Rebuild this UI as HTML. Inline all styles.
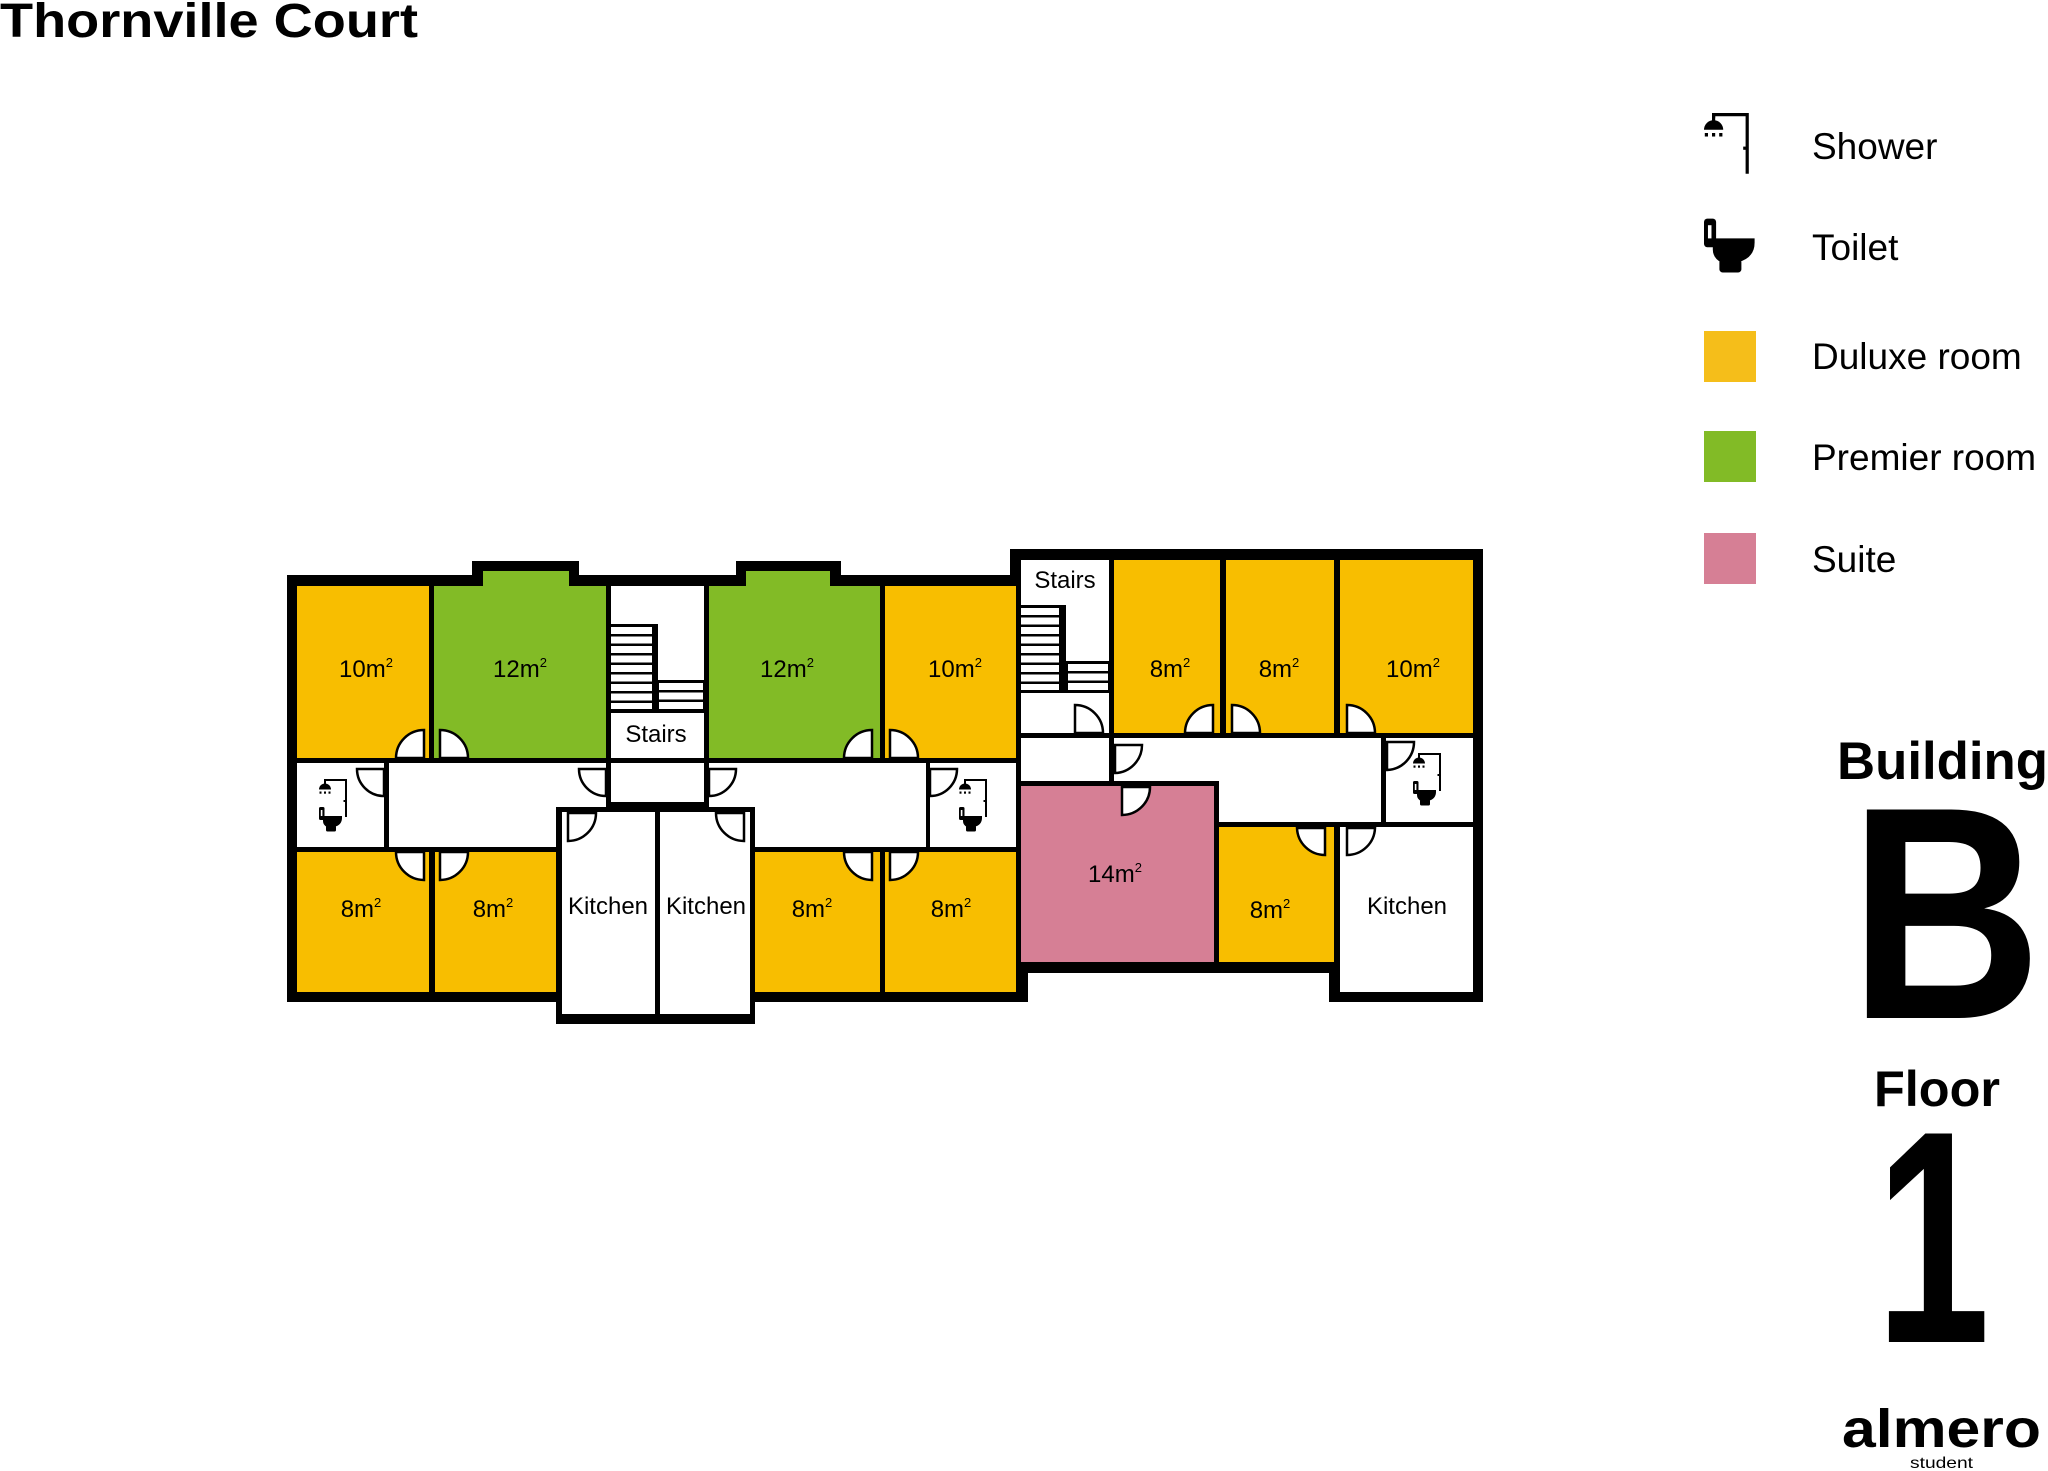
<!DOCTYPE html>
<html><head><meta charset="utf-8"><style>
html,body{margin:0;padding:0;background:#fff;}
svg{display:block;}
text{font-family:"Liberation Sans",sans-serif;fill:#000;}
</style></head><body>
<svg width="2048" height="1471" viewBox="0 0 2048 1471" xmlns="http://www.w3.org/2000/svg">
<defs>
<g id="shw">
  <path d="M6,3 V1 H27 V38" fill="none" stroke="#000" stroke-width="2"/>
  <rect x="5" y="1" width="2" height="4" fill="#000"/>
  <path d="M0,10.5 A6,6 0 0 1 12,10.5 Z" fill="#000"/>
  <rect x="0.5" y="12.5" width="2" height="2.2" fill="#000"/>
  <rect x="5" y="12.5" width="2" height="2.2" fill="#000"/>
  <rect x="9.5" y="12.5" width="2" height="2.2" fill="#000"/>
  <rect x="24.5" y="21" width="2.5" height="2" fill="#000"/>
</g>
<g id="tlt">
  <rect x="0" y="28" width="5.5" height="13" rx="1.5" fill="#000"/>
  <rect x="1.8" y="31" width="1.6" height="6" fill="#fff"/>
  <path d="M4,37 H23 V39 Q23,46 15,48 H8 Q4,46 4,42 Z" fill="#000"/>
  <rect x="7" y="46.5" width="10" height="6" rx="1.5" fill="#000"/>
</g>
<g id="ico"><use href="#shw"/><use href="#tlt"/></g>
</defs>

<!-- Title -->
<text x="0" y="37" font-size="48" font-weight="bold" textLength="418" lengthAdjust="spacingAndGlyphs">Thornville Court</text>

<!-- Legend -->
<use href="#shw" transform="translate(1704,113) scale(1.6)"/>
<use href="#tlt" transform="translate(1704,157) scale(2.2)"/>
<text x="1812" y="159" font-size="37">Shower</text>
<text x="1812" y="260" font-size="37">Toilet</text>
<rect x="1704" y="331" width="52" height="51" fill="#F5BE1A"/>
<rect x="1704" y="431" width="52" height="51" fill="#82BB26"/>
<rect x="1704" y="533" width="52" height="51" fill="#D67F95"/>
<text x="1812" y="369" font-size="37">Duluxe room</text>
<text x="1812" y="470" font-size="37">Premier room</text>
<text x="1812" y="572" font-size="37">Suite</text>

<!-- Building / floor -->
<text x="1837" y="779" font-size="53" font-weight="bold" textLength="211" lengthAdjust="spacingAndGlyphs">Building</text>
<text x="1849" y="1018" font-size="303" font-weight="bold" textLength="193" lengthAdjust="spacingAndGlyphs">B</text>
<text x="1874" y="1106" font-size="50" font-weight="bold" textLength="126" lengthAdjust="spacingAndGlyphs">Floor</text>
<text x="1876" y="1342" font-size="303" font-weight="bold" textLength="114" lengthAdjust="spacingAndGlyphs">1</text>
<text x="1842" y="1447" font-size="54" font-weight="bold" textLength="199" lengthAdjust="spacingAndGlyphs">almero</text>
<text x="1910" y="1468" font-size="16" textLength="63" lengthAdjust="spacingAndGlyphs">student</text>

<!-- Black footprint -->
<g fill="#000">
  <rect x="287" y="575" width="741" height="427"/>
  <rect x="472" y="561" width="107" height="20"/>
  <rect x="736" y="561" width="105" height="20"/>
  <rect x="556" y="990" width="199" height="34"/>
  <rect x="1010" y="549" width="473" height="424"/>
  <rect x="1329" y="960" width="154" height="42"/>
</g>
<rect x="1028" y="973" width="301" height="29" fill="#fff"/>

<!-- Left block rooms -->
<g>
  <rect x="297" y="586" width="132" height="172" fill="#F8BE00"/>
  <rect x="434" y="586" width="172" height="172" fill="#82BB26"/>
  <rect x="483" y="571" width="86" height="16" fill="#82BB26"/>
  <rect x="611" y="586" width="93" height="172" fill="#fff"/>
  <rect x="709" y="586" width="171" height="172" fill="#82BB26"/>
  <rect x="746" y="571" width="84" height="16" fill="#82BB26"/>
  <rect x="885" y="586" width="131" height="172" fill="#F8BE00"/>

  <rect x="297" y="763" width="87" height="84" fill="#fff"/>
  <rect x="389" y="763" width="167" height="84" fill="#fff"/>
  <rect x="389" y="763" width="217" height="44" fill="#fff"/>
  <rect x="611" y="763" width="93" height="39" fill="#fff"/>
  <rect x="755" y="763" width="171" height="84" fill="#fff"/>
  <rect x="709" y="763" width="217" height="44" fill="#fff"/>
  <rect x="930" y="763" width="86" height="84" fill="#fff"/>

  <rect x="562" y="812" width="93" height="202" fill="#fff"/>
  <rect x="660" y="812" width="90" height="202" fill="#fff"/>

  <rect x="297" y="852" width="132" height="140" fill="#F8BE00"/>
  <rect x="435" y="852" width="121" height="140" fill="#F8BE00"/>
  <rect x="755" y="852" width="125" height="140" fill="#F8BE00"/>
  <rect x="885" y="852" width="131" height="140" fill="#F8BE00"/>
</g>

<!-- Right block rooms -->
<g>
  <rect x="1021" y="560" width="88" height="173" fill="#fff"/>
  <rect x="1114" y="560" width="106" height="173" fill="#F8BE00"/>
  <rect x="1226" y="560" width="108" height="173" fill="#F8BE00"/>
  <rect x="1340" y="560" width="133" height="173" fill="#F8BE00"/>
  <rect x="1021" y="738" width="88" height="43" fill="#fff"/>
  <rect x="1114" y="738" width="267" height="43" fill="#fff"/>
  <rect x="1219" y="738" width="162" height="84" fill="#fff"/>
  <rect x="1386" y="738" width="87" height="84" fill="#fff"/>
  <rect x="1021" y="786" width="193" height="176" fill="#D67F95"/>
  <rect x="1219" y="827" width="115" height="135" fill="#F8BE00"/>
  <rect x="1340" y="827" width="133" height="165" fill="#fff"/>
</g>

<!-- Left stairs -->
<rect x="611" y="624" width="47" height="89" fill="#000"/>
<rect x="653" y="680" width="51" height="33" fill="#000"/>
<g fill="#fff">
  <rect x="611" y="627" width="41" height="7"/>
  <rect x="611" y="636.5" width="41" height="7"/>
  <rect x="611" y="646" width="41" height="7"/>
  <rect x="611" y="655.5" width="41" height="7"/>
  <rect x="611" y="665" width="41" height="7"/>
  <rect x="611" y="674.5" width="41" height="7"/>
  <rect x="611" y="684" width="41" height="7"/>
  <rect x="611" y="693.5" width="41" height="7"/>
  <rect x="611" y="703" width="41" height="6"/>
  <rect x="659" y="683" width="44" height="7"/>
  <rect x="659" y="692.5" width="44" height="7"/>
  <rect x="659" y="702" width="44" height="7"/>
</g>

<!-- Right stairs -->
<rect x="1021" y="605" width="45" height="88" fill="#000"/>
<rect x="1060" y="661" width="49" height="32" fill="#000"/>
<g fill="#fff">
  <rect x="1021" y="608" width="38" height="7"/>
  <rect x="1021" y="617.5" width="38" height="7"/>
  <rect x="1021" y="627" width="38" height="7"/>
  <rect x="1021" y="636.5" width="38" height="7"/>
  <rect x="1021" y="646" width="38" height="7"/>
  <rect x="1021" y="655.5" width="38" height="7"/>
  <rect x="1021" y="665" width="38" height="7"/>
  <rect x="1021" y="674.5" width="38" height="7"/>
  <rect x="1021" y="684" width="38" height="6"/>
  <rect x="1068" y="664" width="40" height="7"/>
  <rect x="1068" y="673.5" width="40" height="7"/>
  <rect x="1068" y="683" width="40" height="7"/>
</g>

<!-- Doors -->
<g fill="#fff" stroke="#000" stroke-width="2.5" stroke-linejoin="miter">
  <path d="M424,758 V730 A28,28 0 0 0 396,758 Z"/>
  <path d="M440,758 V730 A28,28 0 0 1 468,758 Z"/>
  <path d="M872,758 V730 A28,28 0 0 0 844,758 Z"/>
  <path d="M890,758 V730 A28,28 0 0 1 918,758 Z"/>
  <path d="M424,852 V880 A28,28 0 0 1 396,852 Z"/>
  <path d="M440,852 V880 A28,28 0 0 0 468,852 Z"/>
  <path d="M872,852 V880 A28,28 0 0 1 844,852 Z"/>
  <path d="M890,852 V880 A28,28 0 0 0 918,852 Z"/>
  <path d="M384,769 H357 A27,27 0 0 0 384,796 Z"/>
  <path d="M930,769 H957 A27,27 0 0 1 930,796 Z"/>
  <path d="M606,769 H579 A27,27 0 0 0 606,796 Z"/>
  <path d="M709,769 H736 A27,27 0 0 1 709,796 Z"/>
  <path d="M568,813 V841 A28,28 0 0 0 596,813 Z"/>
  <path d="M744,813 V841 A28,28 0 0 1 716,813 Z"/>
  <path d="M1075,733 V705 A28,28 0 0 1 1103,733 Z"/>
  <path d="M1213,733 V705 A28,28 0 0 0 1185,733 Z"/>
  <path d="M1232,733 V705 A28,28 0 0 1 1260,733 Z"/>
  <path d="M1347,733 V705 A28,28 0 0 1 1375,733 Z"/>
  <path d="M1115,745 H1142 A28,28 0 0 1 1115,773 Z"/>
  <path d="M1122,787 H1150 A28,28 0 0 1 1122,815 Z"/>
  <path d="M1387,742 H1414 A28,28 0 0 1 1387,770 Z"/>
  <path d="M1325,828 V855 A28,28 0 0 1 1297,828 Z"/>
  <path d="M1347,828 V855 A28,28 0 0 0 1375,828 Z"/>
</g>

<!-- Bath icons -->
<use href="#ico" transform="translate(319,779)"/>
<use href="#ico" transform="translate(959,779)"/>
<use href="#ico" transform="translate(1413,753)"/>

<!-- Labels -->
<g font-size="24" text-anchor="middle">
  <text x="366" y="677">10m<tspan font-size="13" dy="-10">2</tspan></text>
  <text x="520" y="677">12m<tspan font-size="13" dy="-10">2</tspan></text>
  <text x="787" y="677">12m<tspan font-size="13" dy="-10">2</tspan></text>
  <text x="955" y="677">10m<tspan font-size="13" dy="-10">2</tspan></text>
  <text x="656" y="742">Stairs</text>
  <text x="361" y="917">8m<tspan font-size="13" dy="-10">2</tspan></text>
  <text x="493" y="917">8m<tspan font-size="13" dy="-10">2</tspan></text>
  <text x="812" y="917">8m<tspan font-size="13" dy="-10">2</tspan></text>
  <text x="951" y="917">8m<tspan font-size="13" dy="-10">2</tspan></text>
  <text x="608" y="914">Kitchen</text>
  <text x="706" y="914">Kitchen</text>
  <text x="1065" y="588">Stairs</text>
  <text x="1170" y="677">8m<tspan font-size="13" dy="-10">2</tspan></text>
  <text x="1279" y="677">8m<tspan font-size="13" dy="-10">2</tspan></text>
  <text x="1413" y="677">10m<tspan font-size="13" dy="-10">2</tspan></text>
  <text x="1115" y="882">14m<tspan font-size="13" dy="-10">2</tspan></text>
  <text x="1270" y="918">8m<tspan font-size="13" dy="-10">2</tspan></text>
  <text x="1407" y="914">Kitchen</text>
</g>
</svg>
</body></html>
